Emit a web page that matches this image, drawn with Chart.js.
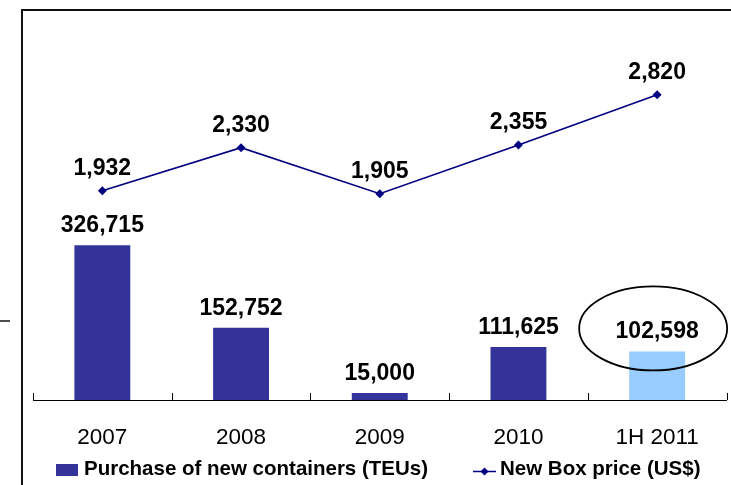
<!DOCTYPE html>
<html>
<head>
<meta charset="utf-8">
<script src="https://cdn.jsdelivr.net/npm/chart.js@4/dist/chart.umd.min.js"></script>
<style>
  html, body { margin: 0; padding: 0; background: #fff; }
  #wrap { position: relative; width: 731px; height: 485px; }
</style>
</head>
<body>
<div id="wrap"><canvas id="c" width="731" height="485"></canvas></div>
<script>
const categories = ['2007', '2008', '2009', '2010', '1H 2011'];
const purchaseTEUs = [326715, 152752, 15000, 111625, 102598];
const boxPrice = [1932, 2330, 1905, 2355, 2820];
const seriesNames = ['Purchase of new containers (TEUs)', 'New Box price (US$)'];

const BAR_DARK = '#333399';
const BAR_LIGHT = '#99CCFF';
const LINE_COLOR = '#000080';
const FONT = '"Liberation Sans", Arial, sans-serif';

const fmt = v => v.toLocaleString('en-US');

const decorPlugin = {
  id: 'decor',
  beforeDraw(chart) {
    const ctx = chart.ctx;
    ctx.save();
    ctx.fillStyle = '#fff';
    ctx.fillRect(0, 0, chart.width, chart.height);
    // frame
    ctx.strokeStyle = '#111';
    ctx.lineWidth = 2;
    ctx.beginPath();
    ctx.moveTo(22, chart.height);
    ctx.lineTo(22, 10);
    ctx.lineTo(chart.width, 10);
    ctx.stroke();
    // small dash at left
    ctx.lineWidth = 1.5;
    ctx.beginPath();
    ctx.moveTo(0, 321);
    ctx.lineTo(10, 321);
    ctx.stroke();
    ctx.restore();
  },
  afterDraw(chart) {
    const ctx = chart.ctx;
    const xs = chart.scales.x;
    const area = chart.chartArea;
    ctx.save();
    // category boundary ticks (pointing up)
    ctx.strokeStyle = '#000';
    ctx.lineWidth = 1;
    const n = categories.length;
    const step = (xs.right - xs.left) / n;
    for (let i = 0; i <= n; i++) {
      const x = Math.round(xs.left + i * step) + 0.5;
      ctx.beginPath();
      ctx.moveTo(x, area.bottom);
      ctx.lineTo(x, area.bottom - 7);
      ctx.stroke();
    }
    // value labels
    ctx.fillStyle = '#000';
    ctx.font = 'bold 23px ' + FONT;
    ctx.textAlign = 'center';
    ctx.textBaseline = 'alphabetic';
    const barMeta = chart.getDatasetMeta(0);
    barMeta.data.forEach((el, i) => {
      ctx.fillText(fmt(purchaseTEUs[i]), el.x, el.y - 13);
    });
    const lineMeta = chart.getDatasetMeta(1);
    lineMeta.data.forEach((el, i) => {
      ctx.fillText(fmt(boxPrice[i]), el.x, el.y - 16);
    });
    // ellipse highlighting the last bar's label
    const last = barMeta.data[barMeta.data.length - 1];
    ctx.strokeStyle = '#000';
    ctx.lineWidth = 1.8;
    ctx.beginPath();
    ctx.ellipse(last.x - 4, last.y - 23, 74, 42, 0, 0, Math.PI * 2);
    ctx.stroke();
    // legend
    ctx.textAlign = 'left';
    ctx.font = 'bold 20.5px ' + FONT;
    ctx.fillStyle = BAR_DARK;
    ctx.fillRect(56, 464, 22, 12);
    ctx.fillStyle = '#000';
    ctx.fillText(seriesNames[0], 84, 475);
    ctx.strokeStyle = LINE_COLOR;
    ctx.lineWidth = 1.5;
    ctx.beginPath();
    ctx.moveTo(473, 471.5);
    ctx.lineTo(496, 471.5);
    ctx.stroke();
    ctx.fillStyle = LINE_COLOR;
    ctx.beginPath();
    ctx.moveTo(484.5, 467.5);
    ctx.lineTo(488.5, 471.5);
    ctx.lineTo(484.5, 475.5);
    ctx.lineTo(480.5, 471.5);
    ctx.closePath();
    ctx.fill();
    ctx.fillStyle = '#000';
    ctx.fillText(seriesNames[1], 500, 475);
    ctx.restore();
  }
};

new Chart(document.getElementById('c'), {
  data: {
    labels: categories,
    datasets: [
      {
        type: 'bar',
        label: seriesNames[0],
        data: purchaseTEUs,
        backgroundColor: purchaseTEUs.map((v, i) => i === purchaseTEUs.length - 1 ? BAR_LIGHT : BAR_DARK),
        borderWidth: 0,
        categoryPercentage: 1,
        barPercentage: 0.403,
        yAxisID: 'y',
        order: 2
      },
      {
        type: 'line',
        label: seriesNames[1],
        data: boxPrice,
        borderColor: LINE_COLOR,
        borderWidth: 1.6,
        backgroundColor: LINE_COLOR,
        pointStyle: 'rectRot',
        pointRadius: 4.5,
        pointBackgroundColor: LINE_COLOR,
        pointBorderColor: LINE_COLOR,
        pointBorderWidth: 0,
        tension: 0,
        yAxisID: 'y1',
        order: 1
      }
    ]
  },
  options: {
    responsive: false,
    animation: false,
    devicePixelRatio: 1,
    layout: { padding: { left: 33, right: 2, top: 21, bottom: 30 } },
    plugins: {
      legend: { display: false },
      tooltip: { enabled: false }
    },
    scales: {
      x: {
        offset: true,
        grid: { display: false, drawTicks: false },
        border: { display: true, color: '#000', width: 1 },
        ticks: {
          color: '#000',
          font: { family: FONT, size: 22.5 },
          padding: 24,
          maxRotation: 0,
          autoSkip: false
        },
        afterFit(scale) { scale.height = 55; }
      },
      y: {
        display: false,
        min: 0,
        max: 800000
      },
      y1: {
        display: false,
        min: 0,
        max: 3500
      }
    }
  },
  plugins: [decorPlugin]
});
</script>
</body>
</html>
